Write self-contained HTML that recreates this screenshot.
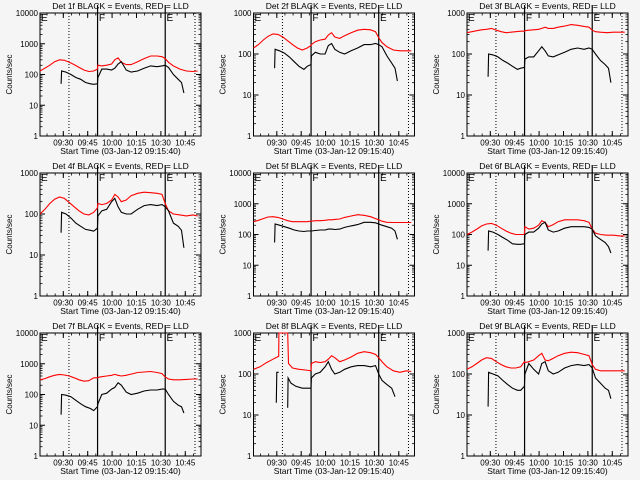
<!DOCTYPE html>
<html><head><meta charset="utf-8"><style>
html,body{margin:0;padding:0;background:#f5f5f5;}
svg{display:block;font-family:"Liberation Sans",sans-serif;}
</style></head><body>
<svg id="chart" width="640" height="480" viewBox="0 0 640 480"></svg>
<script>
const detNames = ["1f","2f","3f","4f","5f","6f","7f","8f","9f"];
const yMaxExp = [4,3,3,3,4,4,4,3,3];
const xTickLabels = ["09:30","09:45","10:00","10:15","10:30","10:45"];
const xTickMinutes = [14.33,29.33,44.33,59.33,74.33,89.33];
const yTickLabels = ["1","10","100","1000","10000"];
const dottedLines = [17.8,95.3];
const solidLines = [35.4,77.0];
const redT = [0,3,6,9,12,15,18,21,24,27,30,33,35.3,35.6,38,41,44,46,48,50,53,56,60,64,68,72,75,77,79,82,86,90,94,97];
const blackT = [13,13.3,16,19,22,25,28,31,33,35.3,35.6,38,41,44,46,48,50,53,56,60,64,68,72,75,77,79,82,85,87,88.5];
const red1 = [130,160,200,260,300,290,250,210,170,140,125,130,150,200,190,200,220,300,350,250,210,210,260,330,400,400,380,330,250,190,150,130,125,130];
const black1 = [50,130,120,100,80,70,55,50,48,50,80,150,150,140,160,220,260,140,120,130,160,190,180,190,200,170,100,70,55,25];
const red2 = [140,170,220,270,310,300,260,210,170,140,125,140,160,170,200,220,230,290,330,260,240,280,330,380,400,390,350,250,190,150,125,120,120,120];
const black2 = [45,130,120,105,85,65,50,42,50,55,90,110,100,100,160,180,130,110,100,120,140,170,170,180,170,150,90,60,45,22];
const red3 = [330,350,370,390,400,420,380,350,330,340,350,360,360,370,380,390,400,420,450,420,420,450,480,520,500,470,450,380,350,340,330,340,340,340];
const black3 = [28,100,95,85,70,60,50,42,45,47,75,85,85,120,150,120,90,85,95,110,130,140,130,140,130,100,70,55,45,20];
const red4 = [100,130,180,230,260,240,190,150,120,100,95,110,140,180,170,180,220,300,260,200,220,280,320,340,330,320,300,180,120,100,95,90,95,90];
const black4 = [35,110,100,80,60,50,42,40,38,45,90,120,130,200,240,150,110,100,100,130,160,170,160,170,150,120,60,50,40,15];
const red5 = [260,290,330,370,380,360,320,280,260,260,260,260,270,270,280,280,290,300,300,310,320,360,400,440,420,380,330,300,270,250,245,245,245,245];
const black5 = [55,220,200,180,160,140,130,125,130,130,130,135,140,140,150,150,145,150,170,190,210,250,250,240,220,200,180,160,130,70];
const red6 = [100,120,150,190,220,230,200,160,130,110,100,100,100,180,150,160,200,280,250,180,210,260,300,300,300,280,250,150,110,100,95,95,90,90];
const black6 = [30,130,120,100,80,65,50,48,48,50,100,120,120,160,220,250,140,120,130,160,180,180,180,170,150,90,70,55,40,25];
const red7 = [300,330,380,420,450,430,400,350,300,270,280,350,350,360,380,400,420,450,420,400,420,460,520,540,560,520,480,370,320,300,300,310,320,320];
const black7 = [22,100,95,85,65,50,40,35,30,40,50,100,110,150,170,240,200,120,100,110,130,140,140,150,150,100,60,45,40,25];
const red8T = [0,4,8,12,15.5,15.6,21,21.5,24,28,32,35.3,35.6,38,41,44,46,48,50,53,56,60,64,68,72,75,77,79,82,86,90,94,97];
const red8 = [130,150,190,230,270,3000,3000,180,140,130,125,120,180,200,190,200,230,280,250,200,220,260,320,350,330,300,250,200,150,120,110,120,115];
const black8T = [14,14.3,15.5,15.6,21,21.3,23,26,30,33,35.3,35.6,38,41,44,46,48,50,53,56,60,64,68,72,75,77,79,82,85,87];
const black8 = [20,110,110,null,15,80,60,50,45,45,45,80,100,110,150,200,130,100,110,130,150,160,160,150,160,100,70,55,45,28];
const red9 = [130,150,180,220,250,240,200,170,150,140,140,150,200,190,200,220,280,320,220,210,240,280,320,340,330,300,280,170,130,120,120,120,120,120];
const black9 = [16,110,100,90,70,55,45,40,40,50,100,180,130,100,180,200,120,100,110,140,160,170,160,170,140,80,60,45,40,25];

const reds = [red1,red2,red3,red4,red5,red6,red7,red8,red9];
const blacks = [black1,black2,black3,black4,black5,black6,black7,black8,black9];
const redTs = [redT,redT,redT,redT,redT,redT,redT,red8T,redT];
const blackTs = [blackT,blackT,blackT,blackT,blackT,blackT,blackT,black8T,blackT];

const NS = "http://www.w3.org/2000/svg";
const svg = document.getElementById("chart");
function mk(tag, attrs, parent){
  const e = document.createElementNS(NS, tag);
  for (const k in attrs) e.setAttribute(k, attrs[k]);
  (parent||svg).appendChild(e);
  return e;
}
const W = 161, H = 123, TMAX = 99;

for (let p = 0; p < 9; p++) {
  const c = p % 3, r = Math.floor(p / 3);
  const x0 = 40 + 213.5 * c, y0 = 13 + 160 * r, y1 = y0 + H;
  const ex = yMaxExp[p];
  const g = mk("g", {});
  
  
  const xs = t => x0 + t / TMAX * W;
  const ys = v => y1 - Math.min(Math.log10(Math.max(v, 1)), ex) / ex * H;

  const t1 = mk("text", {x: x0 + W/2, y: y0 - 4, "text-anchor": "middle", "font-size": "8.5"}, g);
  t1.textContent = "Det " + detNames[p] + " BLACK = Events, RED = LLD";
  
  

  const box = mk("rect", {x: x0, y: y0, width: W, height: H, fill: "none", stroke: "#000", "stroke-width": 1}, g);
  
  

  for (let d = 0; d <= ex; d++) {
    const y = ys(Math.pow(10, d));
    mk("line", {x1: x0, x2: x0 + 5, y1: y, y2: y, stroke: "#000"}, g);
    mk("line", {x1: x0 + W, x2: x0 + W - 5, y1: y, y2: y, stroke: "#000"}, g);
    const lb = mk("text", {x: x0 - 2, y: y + 3, "text-anchor": "end", "font-size": "8"}, g);
    lb.textContent = yTickLabels[d];
    
    
    if (d < ex) for (let m = 2; m <= 9; m++) {
      const ym = ys(m * Math.pow(10, d));
      mk("line", {x1: x0, x2: x0 + 2.5, y1: ym, y2: ym, stroke: "#000", "stroke-width": 0.8}, g);
      mk("line", {x1: x0 + W, x2: x0 + W - 2.5, y1: ym, y2: ym, stroke: "#000", "stroke-width": 0.8}, g);
    }
  }
  for (let i = 0; i < xTickMinutes.length; i++) {
    const x = xs(xTickMinutes[i]);
    mk("line", {x1: x, x2: x, y1: y1, y2: y1 - 5, stroke: "#000"}, g);
    mk("line", {x1: x, x2: x, y1: y0, y2: y0 + 5, stroke: "#000"}, g);
    const lb = mk("text", {x: x, y: y1 + 9.5, "text-anchor": "middle", "font-size": "8"}, g);
    lb.textContent = xTickLabels[i];
    
    
  }
  for (let t = 4.33; t < TMAX; t += 5) {
    const x = xs(t);
    mk("line", {x1: x, x2: x, y1: y1, y2: y1 - 2.5, stroke: "#000", "stroke-width": 0.8}, g);
    mk("line", {x1: x, x2: x, y1: y0, y2: y0 + 2.5, stroke: "#000", "stroke-width": 0.8}, g);
  }
  const xt = mk("text", {x: x0 + W/2, y: y1 + 18, "text-anchor": "middle", "font-size": "8.5"}, g);
  xt.textContent = "Start Time (03-Jan-12 09:15:40)";
  
  
  const yt = mk("text", {x: 0, y: 0, "text-anchor": "middle", "font-size": "8", transform: "translate(" + (x0 - 28) + "," + (y0 + H/2) + ") rotate(-90)"}, g);
  yt.textContent = "Counts/sec";
  
  

  dottedLines.forEach(t => {
    const l = mk("line", {x1: xs(t), x2: xs(t), y1: y0, y2: y1, stroke: "#000", "stroke-dasharray": "1,2"}, g);
    
    
  });
  solidLines.forEach(t => {
    const l = mk("line", {x1: xs(t), x2: xs(t), y1: y0 - 8, y2: y1, stroke: "#000", "stroke-width": 1.2}, g);
    
    
  });
  const marks = [[0.6, "E"], [solidLines[0] + 0.8, "F"], [solidLines[1] + 0.8, "E"]];
  marks.forEach(m => {
    const tx = mk("text", {x: xs(m[0]), y: y0 + 8, "font-size": "10"}, g);
    tx.textContent = m[1];
    
    
  });

  function series(T, V, color, name) {
    let d = "", pen = false;
    const n = Math.min(T.length, V.length);
    for (let i = 0; i < n; i++) {
      if (V[i] === null) { pen = false; continue; }
      d += (pen ? "L" : "M") + xs(T[i]).toFixed(1) + "," + ys(V[i]).toFixed(1);
      pen = true;
    }
    const pth = mk("path", {d: d, fill: "none", stroke: color, "stroke-width": 1.1}, g);
    
    
  }
  series(redTs[p], reds[p], "#ff0000", "lld-red-series");
  series(blackTs[p], blacks[p], "#000000", "events-black-series");
}
</script>
</body></html>
